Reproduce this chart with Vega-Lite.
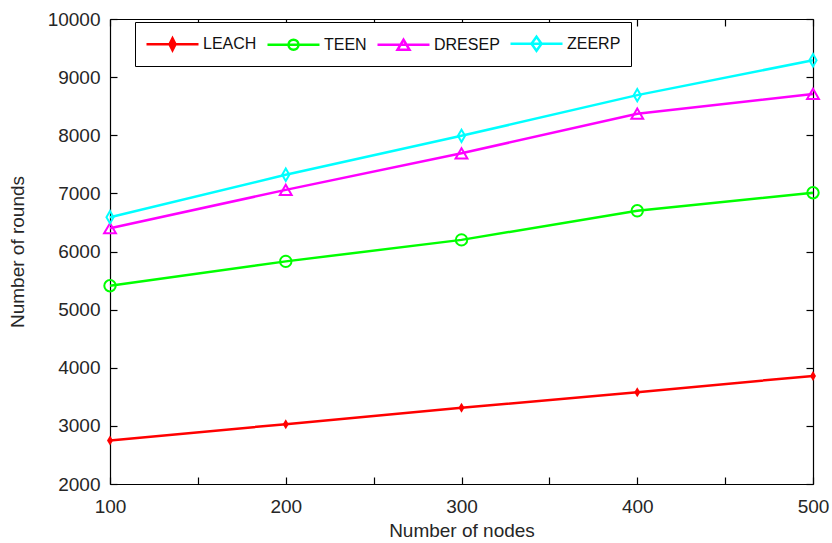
{
  "$schema": "https://vega.github.io/schema/vega-lite/v6.json",
  "width": 703,
  "height": 465,
  "autosize": "none",
  "padding": {"left": 110, "top": 19, "right": 19, "bottom": 59},
  "background": "white",
  "config": {
    "view": {"stroke": null},
    "font": "Liberation Sans",
    "axis": {
      "grid": false,
      "domainColor": "#000000",
      "domainWidth": 1.2,
      "tickColor": "#000000",
      "tickWidth": 1.2,
      "tickSize": -7,
      "labelColor": "#262626",
      "labelFontSize": 19,
      "titleColor": "#262626",
      "titleFontSize": 19,
      "titleFontWeight": "normal"
    }
  },
  "data": {
    "values": [
      {"series": "LEACH", "nodes": 100, "rounds": 2750},
      {"series": "LEACH", "nodes": 200, "rounds": 3030},
      {"series": "LEACH", "nodes": 300, "rounds": 3310},
      {"series": "LEACH", "nodes": 400, "rounds": 3580},
      {"series": "LEACH", "nodes": 500, "rounds": 3860},
      {"series": "TEEN", "nodes": 100, "rounds": 5410},
      {"series": "TEEN", "nodes": 200, "rounds": 5830},
      {"series": "TEEN", "nodes": 300, "rounds": 6200},
      {"series": "TEEN", "nodes": 400, "rounds": 6700},
      {"series": "TEEN", "nodes": 500, "rounds": 7010},
      {"series": "DRESEP", "nodes": 100, "rounds": 6400},
      {"series": "DRESEP", "nodes": 200, "rounds": 7060},
      {"series": "DRESEP", "nodes": 300, "rounds": 7690},
      {"series": "DRESEP", "nodes": 400, "rounds": 8370},
      {"series": "DRESEP", "nodes": 500, "rounds": 8710},
      {"series": "ZEERP", "nodes": 100, "rounds": 6590},
      {"series": "ZEERP", "nodes": 200, "rounds": 7320},
      {"series": "ZEERP", "nodes": 300, "rounds": 7990},
      {"series": "ZEERP", "nodes": 400, "rounds": 8690},
      {"series": "ZEERP", "nodes": 500, "rounds": 9290}
    ]
  },
  "layer": [
    {
      "mark": {"type": "line", "strokeWidth": 2.5},
      "encoding": {
        "x": {
          "field": "nodes", "type": "quantitative",
          "scale": {"domain": [100, 500], "nice": false, "zero": false},
          "axis": {
            "orient": "bottom",
            "values": [100, 150, 200, 250, 300, 350, 400, 450, 500],
            "labelExpr": "datum.value % 100 === 0 ? datum.label : ''",
            "labelPadding": 20,
            "labelFlush": false,
            "title": "Number of nodes",
            "titlePadding": 5
          }
        },
        "y": {
          "field": "rounds", "type": "quantitative",
          "scale": {"domain": [2000, 10000], "nice": false, "zero": false},
          "axis": {
            "orient": "left",
            "values": [2000, 3000, 4000, 5000, 6000, 7000, 8000, 9000, 10000],
            "format": "d",
            "labelPadding": 17,
            "labelFlush": false,
            "title": "Number of rounds",
            "titlePadding": 20
          }
        },
        "color": {
          "field": "series", "type": "nominal",
          "scale": {"domain": ["LEACH", "TEEN", "DRESEP", "ZEERP"], "range": ["#ff0000", "#00ff00", "#ff00ff", "#00ffff"]},
          "legend": {
            "orient": "none",
            "legendX": 25,
            "legendY": 3,
            "direction": "horizontal",
            "title": null,
            "strokeColor": "#000000",
            "fillColor": "#ffffff",
            "padding": 10,
            "columnPadding": 5,
            "symbolSize": 400,
            "symbolStrokeWidth": 2.5,
            "labelFontSize": 16,
            "labelColor": "#111111",
            "labelOffset": 35,
            "encode": {
              "symbols": {
                "update": {
                  "shape": {"signal": "datum.value === 'LEACH' ? 'M-1,0H4.2M1.6,-0.6L1.9,0L1.6,0.6L1.3,0Z' : datum.value === 'TEEN' ? 'M-1,0H4.2M2.1,0A0.5,0.5 0 1,1 1.1,0A0.5,0.5 0 1,1 2.1,0' : datum.value === 'DRESEP' ? 'M-1,0H4.2M1.6,-0.5L2.2,0.5L1.0,0.5Z' : 'M-1,0H4.2M1.6,-0.7L2.1,0L1.6,0.7L1.1,0Z'"},
                  "fill": {"signal": "datum.value === 'LEACH' ? '#ff0000' : '#ffffff'"},
                  "fillOpacity": {"signal": "datum.value === 'LEACH' ? 1 : 0"}
                }
              }
            }
          }
        }
      }
    },
    {
      "transform": [{"filter": "datum.series === 'LEACH'"}],
      "mark": {"type": "point", "shape": "M0,-1L0.6,0L0,1L-0.6,0Z", "size": 100, "filled": true, "opacity": 1, "strokeWidth": 2},
      "encoding": {
        "x": {
          "field": "nodes", "type": "quantitative",
          "axis": {
            "orient": "top",
            "values": [100, 150, 200, 250, 300, 350, 400, 450, 500],
            "labels": false,
            "title": null
          }
        },
        "y": {
          "field": "rounds", "type": "quantitative",
          "axis": {
            "orient": "right",
            "values": [2000, 3000, 4000, 5000, 6000, 7000, 8000, 9000, 10000],
            "labels": false,
            "title": null
          }
        },
        "color": {"field": "series", "type": "nominal", "legend": null}
      }
    },
    {
      "transform": [{"filter": "datum.series === 'TEEN'"}],
      "mark": {"type": "point", "shape": "circle", "size": 130, "filled": false, "opacity": 1, "strokeWidth": 2},
      "encoding": {
        "x": {"field": "nodes", "type": "quantitative", "axis": null},
        "y": {"field": "rounds", "type": "quantitative", "axis": null},
        "color": {"field": "series", "type": "nominal", "legend": null}
      }
    },
    {
      "transform": [{"filter": "datum.series === 'DRESEP'"}],
      "mark": {"type": "point", "shape": "triangle-up", "size": 140, "filled": false, "opacity": 1, "strokeWidth": 2},
      "encoding": {
        "x": {"field": "nodes", "type": "quantitative", "axis": null},
        "y": {"field": "rounds", "type": "quantitative", "axis": null},
        "color": {"field": "series", "type": "nominal", "legend": null}
      }
    },
    {
      "transform": [{"filter": "datum.series === 'ZEERP'"}],
      "mark": {"type": "point", "shape": "M0,-1.3L0.75,0L0,1.3L-0.75,0Z", "size": 90, "filled": false, "opacity": 1, "strokeWidth": 2},
      "encoding": {
        "x": {"field": "nodes", "type": "quantitative", "axis": null},
        "y": {"field": "rounds", "type": "quantitative", "axis": null},
        "color": {"field": "series", "type": "nominal", "legend": null}
      }
    }
  ],
  "resolve": {"axis": {"x": "independent", "y": "independent"}}
}
